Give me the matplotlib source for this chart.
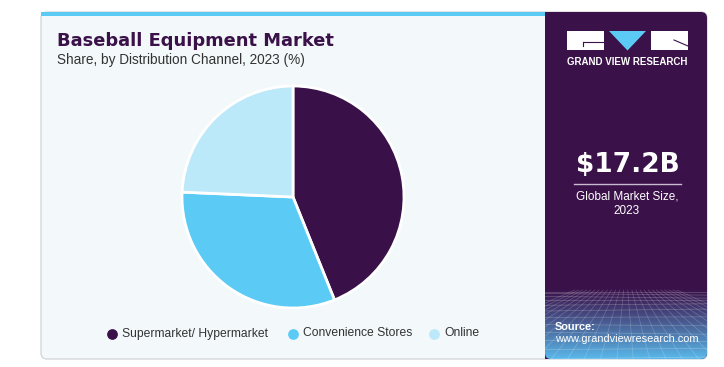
import numpy as np
import matplotlib
matplotlib.use('Agg')
import matplotlib.pyplot as plt
from matplotlib.patches import FancyBboxPatch, Rectangle, Polygon

# datos
canales = ['Supermarket/ Hypermarket', 'Convenience Stores', 'Online']
participacion = [43.9, 31.8, 24.3]
colores = ['#3a1048', '#5bcbf5', '#bce9f9']

titulo = 'Baseball Equipment Market'
subtitulo = 'Share, by Distribution Channel, 2023 (%)'
tamano_mercado = '$17.2B'
etiqueta_mercado = 'Global Market Size,\n2023'

W, H = 724, 367
MORADO = '#3a1149'

plt.rcParams['font.family'] = ['Liberation Sans', 'DejaVu Sans']

fig = plt.figure(figsize=(W / 100, H / 100), dpi=100)
fig.patch.set_facecolor('white')

# eje de fondo en pixeles
bg = fig.add_axes([0, 0, 1, 1])
bg.set_xlim(0, W)
bg.set_ylim(H, 0)
bg.axis('off')

# tarjeta
card = FancyBboxPatch((41, 12), 666, 347, boxstyle='round,pad=0,rounding_size=6',
                      facecolor='#f3f8fb', edgecolor='#d4d8dc', lw=1, zorder=1)
bg.add_patch(card)
bg.add_patch(Rectangle((41, 12), 504, 4, facecolor='#5bcbf5', lw=0, zorder=2))

# panel derecho
panel = FancyBboxPatch((545, 12), 162, 347, boxstyle='round,pad=0,rounding_size=6',
                       facecolor=MORADO, lw=0, zorder=2)
bg.add_patch(panel)
bg.add_patch(Rectangle((545, 12), 10, 347, facecolor=MORADO, lw=0, zorder=2))

# degradado inferior
grad = np.linspace(0, 1, 100)[:, None]
c0 = np.array([0x3a, 0x11, 0x49]) / 255
c1 = np.array([0x5a, 0xb8, 0xea]) / 255
img = c0 + (c1 - c0) * (grad[..., None] ** 1.1)
img = np.repeat(img, 2, axis=1)
im = bg.imshow(img, extent=(545, 707, 359, 288), aspect='auto', zorder=3)
im.set_clip_path(panel)

# rejilla en perspectiva
for k in range(12):
    y = 292 + 67 * (k / 11) ** 1.6
    bg.plot([545, 707], [y, y + 2 * np.sin(k)], color='white', lw=0.5, alpha=0.25, zorder=4)
for xs in np.linspace(420, 830, 26):
    bg.plot([626 + (xs - 626) * 0.25, xs], [290, 359], color='white', lw=0.5, alpha=0.22,
            zorder=4)
for ln in bg.lines:
    ln.set_clip_path(panel)

# logo
bg.add_patch(Rectangle((567, 31), 37, 19, facecolor='white', lw=0, zorder=5))
bg.add_patch(Polygon([(609, 31), (646, 31), (627.5, 50.5)], facecolor='#5bcbf5', lw=0, zorder=5))
bg.add_patch(Rectangle((651, 31), 37, 19, facecolor='white', lw=0, zorder=5))
bg.plot([583, 603], [42, 42], color=MORADO, lw=0.8, zorder=6)
bg.plot([583, 583], [42, 46], color=MORADO, lw=0.8, zorder=6)
bg.plot([674, 688], [40, 46], color=MORADO, lw=0.8, zorder=6)
bg.text(627.5, 62, 'GRAND VIEW RESEARCH', color='white', fontsize=7.0, fontweight='bold',
        ha='center', va='center', zorder=6)

# cifra
bg.text(627.5, 165, tamano_mercado, color='white', fontsize=19, fontweight='bold',
        family='DejaVu Sans', ha='center', va='center', zorder=6)
bg.plot([574, 681], [184, 184], color='#c9bcd0', lw=1, zorder=6)
bg.text(627, 204, etiqueta_mercado, color='white', fontsize=8.5, ha='center', va='center',
        linespacing=1.25, zorder=6)

bg.text(555, 327, 'Source:', color='white', fontsize=7.9, fontweight='bold', va='center', zorder=6)
bg.text(555, 339, 'www.grandviewresearch.com', color='white', fontsize=7.9, va='center', zorder=6)

# titulos
bg.text(57, 41, titulo, color=MORADO, fontsize=12.9, fontweight='bold',
        family='DejaVu Sans', va='center', zorder=6)
bg.text(57, 60, subtitulo, color='#333333', fontsize=9.8, va='center', zorder=6)

# pastel
cx, cy, r = 293, 197, 111
ax = fig.add_axes([(cx - r) / W, (H - cy - r) / H, 2 * r / W, 2 * r / H])
ax.pie(participacion, colors=colores, startangle=90, counterclock=False,
       wedgeprops=dict(edgecolor='white', linewidth=2))
ax.set_xlim(-1, 1)
ax.set_ylim(-1, 1)
ax.axis('off')

# leyenda
posiciones = [112, 293, 434]
for x, nombre, c in zip(posiciones, canales, colores):
    bg.scatter([x], [333.5], s=45, color=c, zorder=6)
    bg.text(x + 10, 333.5, nombre, color='#333333', fontsize=8.7, va='center', zorder=6)

fig.savefig('out.png', dpi=100)
